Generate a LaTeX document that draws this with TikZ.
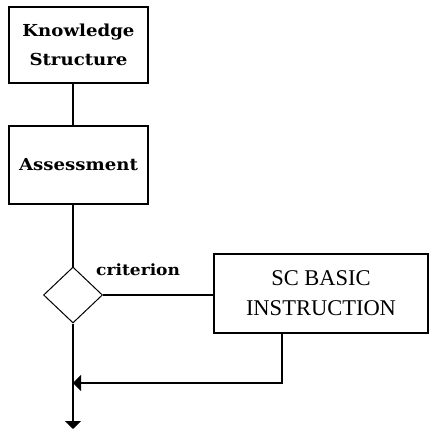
\documentclass[tikz,border=0pt]{standalone}
\usepackage{fontspec}
\usetikzlibrary{shapes.geometric,arrows.meta}
\newfontfamily\labelfont{DejaVu Serif}[FakeStretch=1.1]
\newfontfamily\capsfont{Liberation Serif}
\begin{document}
\begin{tikzpicture}[x=1pt,y=-1pt,
  box/.style={draw,line width=2pt,inner sep=0pt,align=center,
    font=\labelfont\bfseries\fontsize{16.5}{29}\selectfont},
  wire/.style={line width=2pt},
  arrow/.style={wire,-{Triangle[length=8pt,width=16pt]}}]
\useasboundingbox (0,0) rectangle (430,430);
\fill[white] (0,0) rectangle (430,430);
% process boxes
\node[box,minimum width=139pt,minimum height=76pt] (ks) at (78.5,45) {Knowledge\\Structure};
\node[box,minimum width=139pt,minimum height=78pt] (as) at (78.5,165) {Assessment};
% decision
\node[draw,diamond,line width=1pt,inner sep=0pt,minimum width=59pt,minimum height=56pt] (dm) at (73,295) {};
\node[font=\labelfont\bfseries\fontsize{15.5}{16}\selectfont,anchor=base west,inner sep=0pt] (cr) at (96,275) {criterion};
% remedial branch
\node[draw,line width=1.5pt,minimum width=214pt,minimum height=79pt,align=center,
  font=\capsfont\fontsize{22.5}{30}\selectfont] (sc) at (321,293.5) {SC BASIC\\INSTRUCTION};
\coordinate (fb) at (282,383);
\coordinate (out) at (73,429);
% connectors
\draw[wire] (ks.south -| dm) -- (as.north -| dm);
\draw[wire] (as.south -| dm) -- (dm.north);
\draw[wire] (dm.east) -- (dm.east -| sc.west);
\draw[arrow] (sc.south -| fb) -- (fb) -- (fb -| dm);
\draw[arrow] (dm.south) -- (out);
\end{tikzpicture}
\end{document}
